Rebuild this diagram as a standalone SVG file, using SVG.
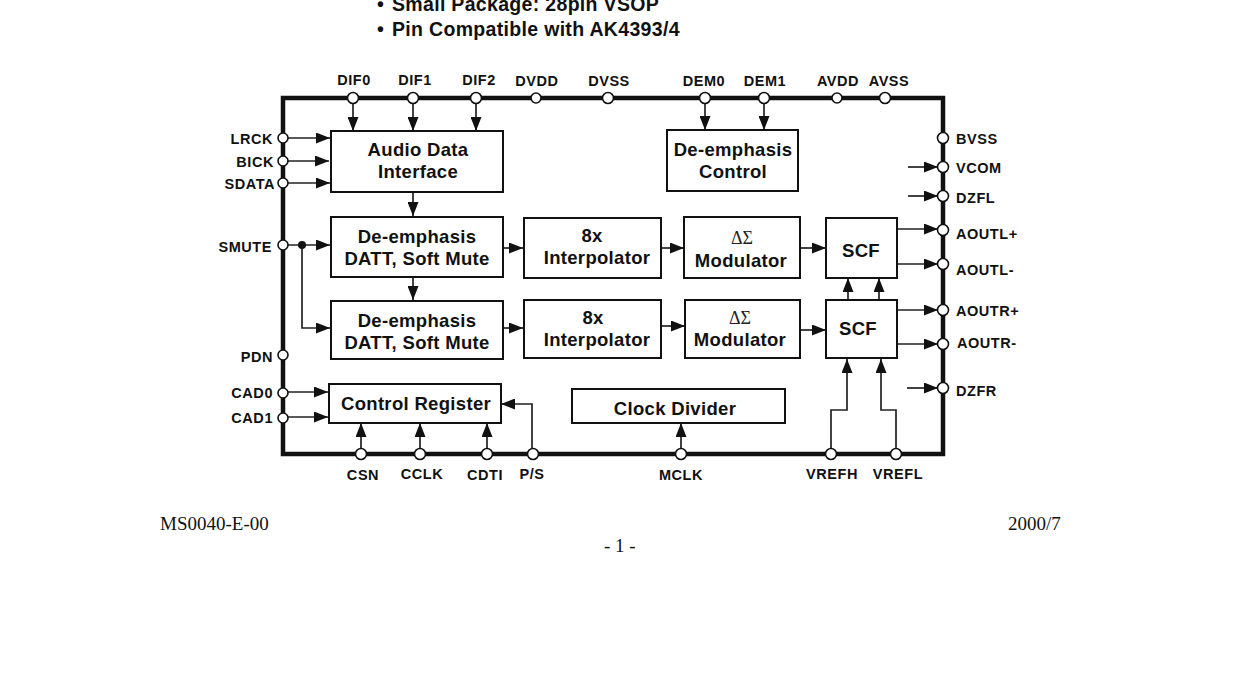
<svg xmlns="http://www.w3.org/2000/svg" width="1240" height="700" viewBox="0 0 1240 700">
<style>
text{font-family:"Liberation Sans",Arial,sans-serif;font-weight:bold;fill:#111}
.p{font-size:14.5px;letter-spacing:.55px}
.b{font-size:18.5px;letter-spacing:.32px;text-anchor:middle}
.h{font-size:19.5px;letter-spacing:.32px}
.f{font-family:"Liberation Serif","Times New Roman",serif;font-weight:normal;font-size:19px}
.g{font-family:"Liberation Serif","Times New Roman",serif;font-weight:normal;font-size:18px;text-anchor:middle;fill:#222}
.m{text-anchor:middle}
.e{text-anchor:end}
rect{fill:#fff;stroke:#111;stroke-width:2}
.pin{fill:#fff;stroke:#111;stroke-width:1.6}
#connectors path{fill:none;stroke:#222;stroke-width:1.7}
</style>
<defs>
<marker id="a" markerUnits="userSpaceOnUse" markerWidth="14" markerHeight="11" refX="14" refY="5.5" orient="auto"><path d="M0 0L14 5.5L0 11Z" fill="#111"/></marker>
</defs>
<rect width="1240" height="700" style="fill:#fff;stroke:none"/>
<text class="h" x="377" y="11">•<tspan x="392">Small Package: 28pin VSOP</tspan></text>
<text class="h" x="377" y="36">•<tspan x="392">Pin Compatible with AK4393/4</tspan></text>
<path id="frame" d="M283 98H943V454H283Z" fill="none" stroke="#111" stroke-width="4.5"/>
<g id="connectors">
<path marker-end="url(#a)" d="M353 98V131"/>
<path marker-end="url(#a)" d="M413 98V131"/>
<path marker-end="url(#a)" d="M476 98V131"/>
<path marker-end="url(#a)" d="M705 98V130"/>
<path marker-end="url(#a)" d="M764 98V130"/>
<path marker-end="url(#a)" d="M283 138H330"/>
<path marker-end="url(#a)" d="M283 161H329"/>
<path marker-end="url(#a)" d="M283 183H330"/>
<path marker-end="url(#a)" d="M283 245H330"/>
<path marker-end="url(#a)" d="M302 245V328H330"/>
<path marker-end="url(#a)" d="M413 192V216"/>
<path marker-end="url(#a)" d="M413 277V300"/>
<path marker-end="url(#a)" d="M503 248H523"/>
<path marker-end="url(#a)" d="M503 328H523"/>
<path marker-end="url(#a)" d="M661 248H684"/>
<path marker-end="url(#a)" d="M661 326H685"/>
<path marker-end="url(#a)" d="M800 248H826"/>
<path marker-end="url(#a)" d="M801 330H826"/>
<path marker-end="url(#a)" d="M848 300V278"/>
<path marker-end="url(#a)" d="M879 300V278"/>
<path marker-end="url(#a)" d="M897 229H938"/>
<path marker-end="url(#a)" d="M897 264H938"/>
<path marker-end="url(#a)" d="M897 310H938"/>
<path marker-end="url(#a)" d="M897 344H938"/>
<path marker-end="url(#a)" d="M908 167H938"/>
<path marker-end="url(#a)" d="M908 196H938"/>
<path marker-end="url(#a)" d="M907 388H938"/>
<path marker-end="url(#a)" d="M283 392H328"/>
<path marker-end="url(#a)" d="M283 417H328"/>
<path marker-end="url(#a)" d="M361 454V423"/>
<path marker-end="url(#a)" d="M420 454V423"/>
<path marker-end="url(#a)" d="M487 454V423"/>
<path marker-end="url(#a)" d="M532 454V404H501"/>
<path marker-end="url(#a)" d="M681 454V423"/>
<path marker-end="url(#a)" d="M831 454V410H847V359"/>
<path marker-end="url(#a)" d="M896 454V410H881V359"/>
</g>
<circle cx="302" cy="245" r="4" fill="#111"/>
<g id="audio"><rect x="331" y="131" width="172" height="61"/><text class="b" x="418" y="156">Audio Data</text><text class="b" x="418" y="178">Interface</text></g>
<g id="demctl"><rect x="667" y="130" width="131" height="61"/><text class="b" x="733" y="156">De-emphasis</text><text class="b" x="733" y="178">Control</text></g>
<g id="datt1"><rect x="331" y="217" width="172" height="60"/><text class="b" x="417" y="243">De-emphasis</text><text class="b" x="417" y="265">DATT, Soft Mute</text></g>
<g id="datt2"><rect x="331" y="301" width="172" height="58"/><text class="b" x="417" y="327">De-emphasis</text><text class="b" x="417" y="349">DATT, Soft Mute</text></g>
<g id="int1"><rect x="524" y="218" width="137" height="60"/><text class="b" x="592" y="242">8x</text><text class="b" x="597" y="264">Interpolator</text></g>
<g id="int2"><rect x="524" y="300" width="137" height="58"/><text class="b" x="593" y="324">8x</text><text class="b" x="597" y="346">Interpolator</text></g>
<g id="mod1"><rect x="684" y="217" width="116" height="61"/><text class="g" x="742" y="244">ΔΣ</text><text class="b" x="741" y="267">Modulator</text></g>
<g id="mod2"><rect x="685" y="300" width="115" height="58"/><text class="g" x="740" y="324">ΔΣ</text><text class="b" x="740" y="346">Modulator</text></g>
<g id="scf1"><rect x="826" y="218" width="71" height="60"/><text class="b" x="861" y="257">SCF</text></g>
<g id="scf2"><rect x="826" y="300" width="71" height="58"/><text class="b" x="858" y="335">SCF</text></g>
<g id="ctrl"><rect x="329" y="384" width="172" height="39"/><text class="b" x="416" y="410">Control Register</text></g>
<g id="clk"><rect x="572" y="389" width="213" height="34"/><text class="b" x="675" y="415">Clock Divider</text></g>
<g id="pins">
<circle class="pin" cx="353" cy="98" r="5.5"/><text class="p m" x="354" y="85">DIF0</text>
<circle class="pin" cx="413" cy="98" r="5.5"/><text class="p m" x="415" y="85">DIF1</text>
<circle class="pin" cx="476" cy="98" r="5.5"/><text class="p m" x="479" y="85">DIF2</text>
<circle class="pin" cx="536" cy="98" r="5"/><text class="p m" x="537" y="86">DVDD</text>
<circle class="pin" cx="608" cy="98" r="5.5"/><text class="p m" x="609" y="86">DVSS</text>
<circle class="pin" cx="705" cy="98" r="5.5"/><text class="p m" x="704" y="86">DEM0</text>
<circle class="pin" cx="764" cy="98" r="5.5"/><text class="p m" x="765" y="86">DEM1</text>
<circle class="pin" cx="837" cy="98" r="5"/><text class="p m" x="838" y="86">AVDD</text>
<circle class="pin" cx="885" cy="98" r="5.5"/><text class="p m" x="889" y="86">AVSS</text>
<circle class="pin" cx="283" cy="138" r="5"/><text class="p e" x="273" y="144">LRCK</text>
<circle class="pin" cx="283" cy="161" r="5"/><text class="p e" x="274" y="167">BICK</text>
<circle class="pin" cx="283" cy="183" r="5"/><text class="p e" x="275" y="189">SDATA</text>
<circle class="pin" cx="283" cy="245" r="5"/><text class="p e" x="272" y="252">SMUTE</text>
<circle class="pin" cx="283" cy="355" r="5"/><text class="p e" x="273" y="362">PDN</text>
<circle class="pin" cx="283" cy="393" r="5"/><text class="p e" x="273" y="398">CAD0</text>
<circle class="pin" cx="283" cy="418" r="5"/><text class="p e" x="273" y="423">CAD1</text>
<circle class="pin" cx="943" cy="138" r="5.5"/><text class="p" x="956" y="144">BVSS</text>
<circle class="pin" cx="943" cy="167" r="5.5"/><text class="p" x="956" y="173">VCOM</text>
<circle class="pin" cx="943" cy="196" r="5.5"/><text class="p" x="956" y="203">DZFL</text>
<circle class="pin" cx="943" cy="230" r="5.5"/><text class="p" x="956" y="239">AOUTL+</text>
<circle class="pin" cx="943" cy="264" r="5.5"/><text class="p" x="956" y="275">AOUTL-</text>
<circle class="pin" cx="943" cy="310" r="5.5"/><text class="p" x="956" y="316">AOUTR+</text>
<circle class="pin" cx="943" cy="344" r="5.5"/><text class="p" x="957" y="348">AOUTR-</text>
<circle class="pin" cx="943" cy="388" r="5.5"/><text class="p" x="956" y="396">DZFR</text>
<circle class="pin" cx="361" cy="454" r="5.5"/><text class="p m" x="363" y="480">CSN</text>
<circle class="pin" cx="420" cy="454" r="5.5"/><text class="p m" x="422" y="479">CCLK</text>
<circle class="pin" cx="487" cy="454" r="5.5"/><text class="p m" x="485" y="480">CDTI</text>
<circle class="pin" cx="533" cy="454" r="5.5"/><text class="p m" x="532" y="479">P/S</text>
<circle class="pin" cx="681" cy="454" r="5.5"/><text class="p m" x="681" y="480">MCLK</text>
<circle class="pin" cx="831" cy="454" r="5.5"/><text class="p m" x="832" y="479">VREFH</text>
<circle class="pin" cx="896" cy="454" r="5.5"/><text class="p m" x="898" y="479">VREFL</text>
</g>
<text class="f" x="160" y="530">MS0040-E-00</text>
<text class="f" x="1008" y="530">2000/7</text>
<text class="f" x="604" y="552">- 1 -</text>
</svg>
